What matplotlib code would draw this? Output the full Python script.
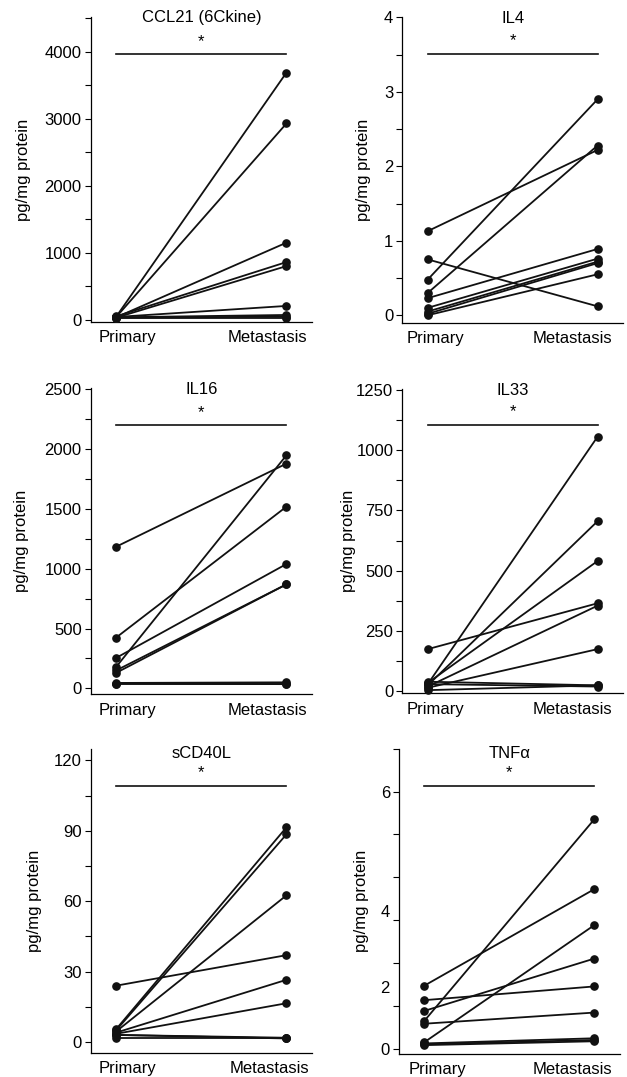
import matplotlib
matplotlib.use("Agg")
import matplotlib.pyplot as plt
from matplotlib.ticker import MultipleLocator, FixedLocator

plt.rcParams['font.family'] = ['Liberation Sans', 'DejaVu Sans']
plt.rcParams['font.size'] = 12

# paired values, one entry per patient: (primary, metastasis)
groups = ["Primary", "Metastasis"]

ccl21_primary = [45, 40, 35, 50, 30, 40, 35, 30, 25]
ccl21_meta = [3690, 2930, 1150, 860, 800, 205, 70, 45, 25]

il4_primary = [1.13, 0.48, 0.30, 0.75, 0.23, 0.10, 0.05, 0.02, 0.0]
il4_meta = [2.22, 2.90, 2.28, 0.12, 0.89, 0.76, 0.72, 0.70, 0.55]

il16_primary = [1185, 425, 255, 180, 150, 130, 45, 40, 40]
il16_meta = [1880, 1520, 1040, 1950, 870, 870, 50, 40, 35]

il33_primary = [175, 30, 25, 35, 20, 15, 40, 30, 5]
il33_meta = [365, 1055, 705, 540, 355, 175, 25, 20, 25]

scd40l_primary = [24, 5.5, 5, 4.5, 4, 3.5, 3, 3, 1.5]
scd40l_meta = [37, 91.5, 88.5, 62.5, 26.5, 16.5, 1.5, 1.8, 1.5]

tnfa_primary = [1.47, 0.65, 0.15, 0.88, 1.13, 0.58, 0.12, 0.10, 0.08]
tnfa_meta = [3.72, 5.35, 2.88, 2.10, 1.45, 0.84, 0.24, 0.20, 0.17]

W, H = 627, 1077
fig = plt.figure(figsize=(W / 100, H / 100), dpi=100)


def make_ax(left, right, top, bottom):
    return fig.add_axes([left / W, 1 - bottom / H, (right - left) / W, (bottom - top) / H])


# name, primary, metastasis, pixel box, ylim, major step, minor step, bar y, title y,
# ylabel x, x positions of the two group labels
panels = [
    ("CCL21 (6Ckine)", ccl21_primary, ccl21_meta, (90.7, 312, 17, 322), (-35, 4520), 1000, 500,
     3960, 0.997, -0.305, (0.066, 0.888)),
    ("IL4", il4_primary, il4_meta, (402.3, 623, 16.7, 322.7), (-0.1, 4.01), 1, 0.5,
     3.51, 0.995, -0.178, (0.047, 0.852)),
    ("IL16", il16_primary, il16_meta, (90.7, 312, 388.3, 694.3), (-50, 2510), 500, 250,
     2200, 0.995, -0.312, (0.066, 0.888)),
    ("IL33", il33_primary, il33_meta, (402.3, 623, 389, 693.3), (-8, 1253), 250, 125,
     1105, 0.995, -0.246, (0.047, 0.852)),
    ("sCD40L", scd40l_primary, scd40l_meta, (90.7, 312, 748.7, 1053), (-4.7, 125), 30, 15,
     109.3, 0.984, -0.252, (0.066, 0.898)),
    ("TNF\u03b1", tnfa_primary, tnfa_meta, (399, 619.7, 748.7, 1053.7), (-0.12, 7.0), None, 1,
     6.13, 0.984, -0.171, (0.074, 0.873)),
]

for name, prim, meta, box, ylim, major, minor, bar_y, title_y, ylab_x, xlab in panels:
    ax = make_ax(*box)
    for p, m in zip(prim, meta):
        ax.plot([0, 1], [p, m], '-o', color='#111111', lw=1.3, ms=5.2, clip_on=False, zorder=3)

    ax.set_xlim(-0.15, 1.15)
    ax.set_ylim(*ylim)
    ax.set_xticks(list(xlab))
    ax.set_xticklabels(groups)
    ax.tick_params(axis='x', length=0, pad=6)

    if major is not None:
        ax.yaxis.set_major_locator(MultipleLocator(major))
        ax.yaxis.set_minor_locator(MultipleLocator(minor))
        ax.tick_params(axis='y', which='both', direction='out', length=4.5, width=0.8, pad=2)
    else:
        # the TNFa axis: evenly spaced marks, labels placed as in the original
        ax.yaxis.remove_overlapping_locs = False
        ax.yaxis.set_major_locator(FixedLocator([0, 1.44, 3.2, 6]))
        ax.set_yticklabels(['0', '2', '4', '6'])
        ax.yaxis.set_minor_locator(FixedLocator([0, 1, 2, 3, 4, 5, 6, 7]))
        ax.tick_params(axis='y', which='major', length=0, pad=6.5)
        ax.tick_params(axis='y', which='minor', direction='out', length=4.5, width=0.8)

    for s in ['top', 'right']:
        ax.spines[s].set_visible(False)
    for s in ['left', 'bottom']:
        ax.spines[s].set_linewidth(0.9)

    ax.set_ylabel("pg/mg protein", va='center')
    ax.yaxis.set_label_coords(ylab_x, 0.5)

    ax.text(0.5, title_y, name, transform=ax.transAxes, ha='center', va='center')
    ax.plot([0, 1], [bar_y, bar_y], color='#111111', lw=1.2)
    ax.annotate('*', xy=(0.5, bar_y), xytext=(0, 4), textcoords='offset points',
                ha='center', va='bottom')

fig.savefig("out.png", dpi=100)
